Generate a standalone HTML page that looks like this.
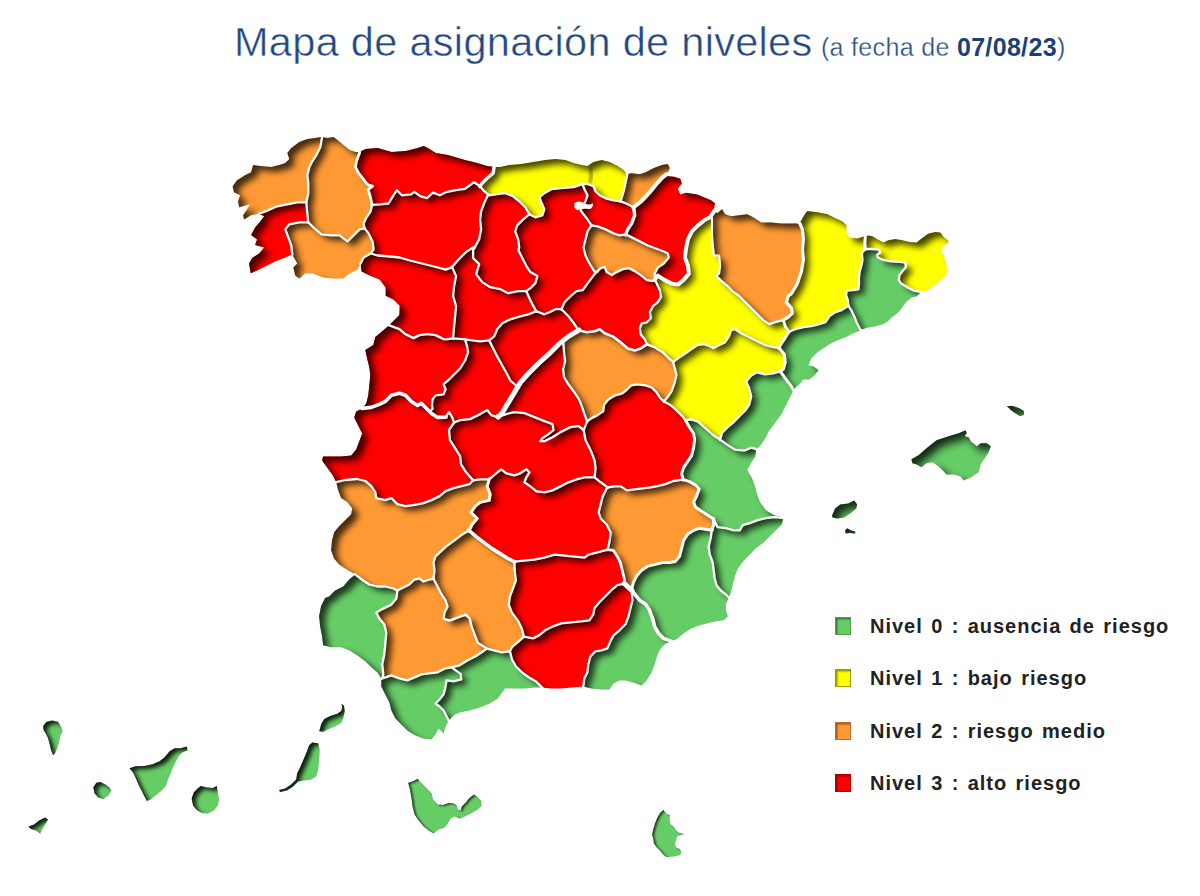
<!DOCTYPE html>
<html lang="es">
<head>
<meta charset="utf-8">
<title>Mapa de asignación de niveles</title>
<style>
html,body{margin:0;padding:0;background:#fff}
body{width:1200px;height:896px;position:relative;overflow:hidden;font-family:"Liberation Sans",sans-serif}
.title{position:absolute;left:234px;top:18.6px;margin:0;white-space:nowrap;font-weight:400;font-size:41.5px;line-height:46px;color:#23487f;letter-spacing:0.3px;-webkit-text-stroke:0.5px #fff}
.title .sub{font-size:25px;letter-spacing:0.33px;color:#2a4d85;margin-left:-3.5px;-webkit-text-stroke:0.3px #fff}
.title .sub b{font-weight:700;color:#1d3f78;-webkit-text-stroke:0}
.legend{position:absolute;left:835px;top:0;margin:0;padding:0;list-style:none;font-weight:700;font-size:20px;letter-spacing:1px;word-spacing:1.8px;color:#222}
.legend li{position:absolute;left:0;white-space:nowrap;height:22px;line-height:22px}
.legend i{position:absolute;left:0;top:2px;width:16px;height:18px;box-sizing:border-box;box-shadow:inset 1.5px 1.5px 1.5px rgba(0,0,0,.4)}
.legend span{position:absolute;left:35px;top:0}
</style>
</head>
<body>
<h1 class="title"><span class="main">Mapa de asignación de niveles</span> <span class="sub">(a fecha de <b>07/08/23</b>)</span></h1>
<svg width="1200" height="896" viewBox="0 0 1200 896" style="position:absolute;left:0;top:0">
<defs>
<filter id="is" x="-30%" y="-30%" width="160%" height="160%" color-interpolation-filters="sRGB">
<feComponentTransfer in="SourceAlpha" result="inv"><feFuncA type="table" tableValues="1 0"/></feComponentTransfer>
<feGaussianBlur in="inv" stdDeviation="3.0" result="bl"/>
<feOffset in="bl" dx="5.5" dy="4.5" result="off"/>
<feComposite in="off" in2="SourceAlpha" operator="in" result="inner"/>
<feColorMatrix in="inner" type="matrix" values="0 0 0 0 0  0 0 0 0 0  0 0 0 0 0  0 0 0 0.72 0" result="sh"/>
<feMerge><feMergeNode in="SourceGraphic"/><feMergeNode in="sh"/></feMerge>
</filter>
<filter id="is2" filterUnits="userSpaceOnUse" x="0" y="680" width="720" height="216" color-interpolation-filters="sRGB">
<feComponentTransfer in="SourceAlpha" result="inv"><feFuncA type="table" tableValues="1 0"/></feComponentTransfer>
<feGaussianBlur in="inv" stdDeviation="2.0" result="bl"/>
<feOffset in="bl" dx="3.5" dy="3.0" result="off"/>
<feComposite in="off" in2="SourceAlpha" operator="in" result="inner"/>
<feColorMatrix in="inner" type="matrix" values="0 0 0 0 0  0 0 0 0 0  0 0 0 0 0  0 0 0 0.85 0" result="sh"/>
<feMerge><feMergeNode in="SourceGraphic"/><feMergeNode in="sh"/></feMerge>
</filter>
<filter id="is3" filterUnits="userSpaceOnUse" x="800" y="380" width="260" height="200" color-interpolation-filters="sRGB">
<feComponentTransfer in="SourceAlpha" result="inv"><feFuncA type="table" tableValues="1 0"/></feComponentTransfer>
<feGaussianBlur in="inv" stdDeviation="4.5" result="bl"/>
<feOffset in="bl" dx="6" dy="6" result="off"/>
<feComposite in="off" in2="SourceAlpha" operator="in" result="inner"/>
<feColorMatrix in="inner" type="matrix" values="0 0 0 0 0  0 0 0 0 0  0 0 0 0 0  0 0 0 0.8 0" result="sh"/>
<feMerge><feMergeNode in="SourceGraphic"/><feMergeNode in="sh"/></feMerge>
</filter>
<filter id="is4" filterUnits="userSpaceOnUse" x="0" y="680" width="720" height="216" color-interpolation-filters="sRGB">
<feComponentTransfer in="SourceAlpha" result="inv"><feFuncA type="table" tableValues="1 0"/></feComponentTransfer>
<feGaussianBlur in="inv" stdDeviation="0.9" result="bl"/>
<feOffset in="bl" dx="1.6" dy="1.0" result="off"/>
<feComposite in="off" in2="SourceAlpha" operator="in" result="inner"/>
<feColorMatrix in="inner" type="matrix" values="0 0 0 0 0  0 0 0 0 0  0 0 0 0 0  0 0 0 0.7 0" result="sh"/>
<feMerge><feMergeNode in="SourceGraphic"/><feMergeNode in="sh"/></feMerge>
</filter>
</defs>
<g>
<path filter="url(#is)" fill="#ff0000" d="M259.1 213.7L264.2 216.3L260.1 221.8L255.1 227.4L251.1 235.0L257.1 239.4L255.1 245.1L264.2 247.5L259.1 253.5L252.1 257.9L249.1 263.5L250.7 273.2L257.1 270.6L265.2 266.5L275.2 261.5L285.3 257.5L292.3 254.5L291.3 245.5L288.3 237.4L285.3 229.4L289.3 224.4L299.3 222.4L308.3 222.4L307.3 213.3L306.3 202.3L297.3 202.3L287.3 204.3L277.2 206.3L268.2 210.3Z"/>
<path filter="url(#is)" fill="#ff9933" d="M322.1 137.1L321.4 137.0L315.4 138.0L307.3 139.0L299.3 142.0L291.3 148.1L287.3 153.1L289.3 159.1L285.3 163.1L279.2 165.1L271.2 167.1L260.1 166.1L253.1 165.1L251.1 172.2L245.1 175.2L237.1 180.2L232.6 186.2L234.0 192.2L240.1 195.3L238.1 201.3L239.1 207.3L250.1 204.3L247.1 209.3L243.1 215.3L244.1 219.4L251.1 215.3L259.1 213.7L268.2 210.3L277.2 206.3L287.3 204.3L297.3 202.3L306.3 202.3L308.3 193.2L308.3 183.2L307.3 175.2L309.4 167.1L312.4 161.1L316.4 155.1L320.4 147.1L322.0 137.4Z"/>
<path filter="url(#is)" fill="#ff9933" d="M359.6 152.1L355.5 152.1L349.5 150.1L343.5 145.0L337.5 140.0L333.5 137.0L327.4 138.0L322.1 137.1L322.0 137.4L320.4 147.1L316.4 155.1L312.4 161.1L309.4 167.1L307.3 175.2L308.3 183.2L308.3 193.2L306.3 202.3L307.3 213.3L308.3 222.4L313.4 227.4L321.4 234.4L331.4 235.4L339.5 235.4L347.5 241.4L353.5 235.4L359.6 229.4L364.6 228.4L363.6 223.4L366.6 217.3L370.6 211.3L372.0 204.9L370.0 195.3L368.0 189.6L372.6 186.2L368.6 185.2L365.6 182.2L362.6 178.2L358.6 173.2L355.5 167.1L356.5 161.1L359.6 152.7Z"/>
<path filter="url(#is)" fill="#ff0000" d="M494.1 167.1L487.1 166.1L477.1 163.1L465.0 160.1L447.9 155.1L435.9 153.1L427.8 148.1L423.8 146.0L417.8 148.1L405.8 151.1L391.7 152.1L377.6 148.1L365.6 149.1L359.6 152.1L359.6 152.7L356.5 161.1L355.5 167.1L358.6 173.2L362.6 178.2L365.6 182.2L368.6 185.2L372.6 186.2L368.0 189.6L370.0 195.3L372.0 204.9L380.2 204.3L388.5 203.5L393.5 195.3L396.9 190.2L401.9 195.3L411.0 194.4L414.4 191.8L420.2 196.1L427.0 198.1L432.9 192.6L439.9 195.3L445.9 192.2L456.0 190.2L465.0 188.8L470.0 185.2L474.0 182.2L480.1 186.2L482.1 183.2L487.1 178.2L493.1 173.2Z"/>
<path filter="url(#is)" fill="#ffff00" d="M627.3 174.0L626.7 174.2L623.7 170.1L617.6 166.1L609.6 162.1L601.6 160.1L593.5 162.1L587.5 166.1L581.5 165.1L573.5 163.1L565.4 160.1L555.4 159.1L545.3 160.1L533.3 162.1L521.2 164.1L509.2 165.1L500.1 167.1L494.1 167.1L493.1 173.2L487.1 178.2L482.1 183.2L480.1 186.2L484.1 191.2L488.3 194.6L489.1 195.3L497.1 194.2L505.2 193.2L513.2 196.3L519.2 201.3L525.3 207.3L529.3 214.3L535.3 217.3L542.3 215.3L544.3 209.3L541.3 202.3L539.3 197.3L544.3 193.2L551.4 189.2L561.4 188.2L573.5 187.2L582.5 184.2L587.5 184.2L593.5 186.2L595.5 191.2L599.6 195.3L605.6 198.3L613.6 200.3L620.6 201.3L623.7 191.2L625.7 182.2L627.3 174.2Z"/>
<path filter="url(#is)" fill="#ff9933" d="M666.4 174.4L667.8 172.8L669.9 168.1L667.8 164.1L661.8 165.1L653.8 168.1L645.8 172.2L639.7 174.2L631.7 173.2L627.3 174.0L627.3 174.2L625.7 182.2L623.7 191.2L620.6 201.3L627.7 204.3L633.7 207.3L641.7 200.9L649.8 192.2L657.4 182.8L662.8 177.2L666.4 174.4Z"/>
<path filter="url(#is)" fill="#ff0000" d="M714.8 210.7L714.0 209.7L715.0 203.3L711.0 200.3L705.0 197.7L697.0 194.6L690.9 193.6L685.9 192.8L680.3 194.4L677.9 188.8L681.9 183.6L680.3 178.8L673.9 176.8L665.0 176.0L666.4 174.4L666.4 174.4L662.8 177.2L657.4 182.8L649.8 192.2L641.7 200.9L633.7 207.3L634.7 215.3L631.7 223.4L627.7 229.4L625.7 234.4L631.7 237.4L639.7 241.4L647.8 245.5L655.8 248.5L663.8 251.5L667.8 253.5L668.8 257.5L663.8 263.5L657.8 267.6L654.8 273.6L654.8 279.6L657.8 275.6L663.8 279.6L671.9 283.6L677.9 284.6L683.9 279.6L688.9 273.6L687.9 265.5L684.9 257.5L685.9 249.5L687.9 239.4L691.9 231.4L698.0 225.4L705.0 219.8L710.0 217.3L710.2 217.1L714.0 211.3Z"/>
<path filter="url(#is)" fill="#ff9933" d="M799.5 223.2L799.4 223.4L791.4 223.4L781.3 223.4L771.3 222.4L761.2 222.4L753.2 217.3L747.2 214.3L739.1 215.3L731.1 216.3L725.1 214.3L722.1 209.3L717.1 213.3L714.8 210.7L714.0 211.3L710.2 217.1L712.0 218.3L712.0 235.4L713.0 247.5L714.0 255.5L719.1 255.5L720.1 265.5L719.1 273.6L716.0 275.6L721.1 280.6L727.1 285.6L733.1 291.7L739.1 296.0L745.2 302.1L751.2 308.1L757.2 314.1L763.2 320.1L769.3 324.1L775.3 322.1L782.9 320.1L783.3 320.1L788.3 317.1L792.4 313.1L791.4 308.1L786.3 302.1L788.3 296.0L791.4 293.7L797.4 283.6L801.4 271.6L803.4 259.5L802.4 249.5L803.4 239.4L802.4 229.4L799.8 223.4Z"/>
<path filter="url(#is)" fill="#ffff00" d="M865.3 235.9L863.7 236.4L857.6 238.4L849.6 237.4L846.6 233.4L846.6 225.4L842.6 221.4L835.5 218.3L827.5 214.3L817.5 212.3L807.4 210.9L805.4 213.3L799.5 223.2L799.8 223.4L802.4 229.4L803.4 239.4L802.4 249.5L803.4 259.5L801.4 271.6L797.4 283.6L791.4 293.7L788.3 296.0L786.3 302.1L791.4 308.1L792.4 313.1L788.3 317.1L783.3 320.1L785.3 326.2L788.9 331.8L795.4 329.2L803.4 327.2L811.4 326.2L819.5 324.1L825.5 322.1L829.5 316.1L835.5 312.1L841.6 310.1L848.4 305.8L847.8 300.0L846.1 295.3L846.7 290.6L853.1 290.0L858.4 289.4L859.0 283.6L859.0 277.7L859.6 271.9L861.3 266.0L862.5 260.1L861.9 253.1L865.4 248.8L864.8 242.6L865.4 236.1Z"/>
<path filter="url(#is)" fill="#ffff00" d="M921.1 292.0L925.8 291.2L930.4 288.3L935.1 284.7L939.8 281.2L944.5 276.5L947.4 271.9L946.8 266.0L945.1 260.1L943.3 254.3L941.0 249.6L944.5 245.5L948.6 242.6L948.0 240.2L943.3 236.7L940.4 232.6L935.1 232.0L928.1 233.8L922.2 237.9L916.4 242.6L909.4 242.0L902.3 240.2L895.3 239.1L888.3 240.2L883.6 242.6L877.7 239.6L871.9 236.1L866.7 235.4L865.3 235.9L865.4 236.1L864.8 242.6L865.4 248.8L871.9 249.0L878.9 249.6L880.1 252.5L877.1 254.9L877.7 257.2L882.4 259.6L890.6 261.3L900.0 261.9L905.3 262.5L905.8 267.2L902.3 271.3L899.4 275.4L898.8 280.1L901.2 283.6L907.0 287.1L914.0 290.6Z"/>
<path filter="url(#is)" fill="#66cc66" d="M861.3 330.0L866.0 328.1L871.9 326.9L877.7 325.8L883.6 324.0L888.3 321.1L891.8 317.6L896.5 314.0L900.0 310.5L903.5 305.8L907.0 301.2L911.7 297.6L916.4 296.5L921.1 292.0L914.0 290.6L907.0 287.1L901.2 283.6L898.8 280.1L899.4 275.4L902.3 271.3L905.8 267.2L905.3 262.5L900.0 261.9L890.6 261.3L882.4 259.6L877.7 257.2L877.1 254.9L880.1 252.5L878.9 249.6L871.9 249.0L865.4 248.8L861.9 253.1L862.5 260.1L861.3 266.0L859.6 271.9L859.0 277.7L859.0 283.6L858.4 289.4L853.1 290.0L846.7 290.6L846.1 295.3L847.8 300.0L848.4 305.8L851.4 310.5L854.3 316.4L856.6 322.2L860.1 329.3Z"/>
<path filter="url(#is)" fill="#66cc66" d="M793.6 390.1L796.4 386.4L799.4 384.4L803.4 379.4L809.4 379.4L814.5 375.4L818.5 370.3L813.5 366.3L808.4 365.3L811.4 358.3L817.5 352.3L823.5 348.2L829.5 344.2L837.6 340.2L845.6 337.2L853.6 333.2L861.3 330.0L860.1 329.3L856.6 322.2L854.3 316.4L851.4 310.5L848.4 305.8L841.6 310.1L835.5 312.1L829.5 316.1L825.5 322.1L819.5 324.1L811.4 326.2L803.4 327.2L795.4 329.2L788.9 331.8L784.3 339.2L780.3 345.2L779.3 348.2L784.3 354.3L785.3 362.3L783.3 369.3L780.3 371.3L785.3 378.4L791.4 386.4Z"/>
<path filter="url(#is)" fill="#66cc66" d="M793.5 390.2L793.6 390.1L791.4 386.4L785.3 378.4L780.3 371.3L773.3 373.3L765.3 374.4L757.2 372.3L751.2 375.4L746.2 381.4L749.2 388.4L751.2 396.4L749.2 404.5L745.2 410.5L739.1 416.5L733.1 422.6L727.1 427.6L722.1 432.6L720.1 439.6L727.1 444.6L735.1 449.7L744.2 450.7L751.2 447.7L756.2 449.1L756.5 449.4L761.2 444.6L765.3 438.6L769.3 430.6L775.3 422.6L781.3 414.5L785.3 406.5L789.4 398.5L793.4 390.4Z"/>
<path filter="url(#is)" fill="#66cc66" d="M782.3 517.8L782.0 517.2L774.0 515.2L765.9 510.2L759.9 502.1L756.9 494.1L754.9 486.1L751.9 478.0L747.2 469.9L751.2 462.7L755.2 456.7L756.2 449.7L756.5 449.4L756.2 449.1L751.2 447.7L744.2 450.7L735.1 449.7L727.1 444.6L720.1 439.6L713.7 435.5L705.7 428.5L697.6 421.4L690.6 419.4L685.6 420.4L689.6 427.5L693.6 433.5L694.6 439.5L693.6 447.6L691.6 455.6L687.6 461.6L683.6 467.6L681.6 473.7L683.2 479.6L689.6 481.6L695.6 485.1L699.2 489.1L696.6 496.1L693.6 502.1L695.6 507.2L701.7 511.2L707.7 515.2L713.3 518.8L717.7 527.2L725.8 528.2L733.8 530.3L739.8 530.3L742.8 525.2L749.9 523.2L757.9 520.2L765.9 518.2L774.0 517.2Z"/>
<path filter="url(#is)" fill="#66cc66" d="M782.3 517.8L782.3 517.8L774.0 517.2L765.9 518.2L757.9 520.2L749.9 523.2L742.8 525.2L739.8 530.3L733.8 530.3L725.8 528.2L717.7 527.2L713.3 518.8L713.7 525.2L711.7 530.3L710.7 538.3L708.7 546.3L709.7 554.4L712.7 562.4L713.7 570.4L714.7 578.5L716.7 585.5L720.7 590.5L725.8 594.5L728.8 597.5L730.8 592.5L732.8 584.5L734.8 576.4L737.8 568.4L743.8 560.4L749.9 554.4L755.9 548.3L763.9 542.3L769.9 536.3L776.0 530.3L782.0 524.2L783.0 519.2Z"/>
<path filter="url(#is)" fill="#66cc66" d="M671.7 641.4L677.7 638.4L683.7 633.3L691.8 628.3L699.8 625.3L707.8 623.3L715.9 621.3L723.9 620.3L727.9 616.3L725.9 610.3L725.9 604.2L728.8 597.5L725.8 594.5L720.7 590.5L716.7 585.5L714.7 578.5L713.7 570.4L712.7 562.4L709.7 554.4L708.7 546.3L710.7 538.3L711.7 530.3L705.7 529.2L699.6 528.2L693.6 530.3L687.6 534.3L683.6 540.3L681.6 548.3L679.6 556.4L675.5 561.4L669.5 562.4L663.5 562.4L655.5 564.4L647.4 566.4L641.4 570.4L636.4 576.4L633.4 582.5L631.5 590.2L639.6 600.2L645.6 604.2L649.6 610.3L652.6 618.3L654.6 626.3L658.6 633.3L663.7 638.4Z"/>
<path filter="url(#is)" fill="#66cc66" d="M583.3 686.6L591.4 688.6L601.4 689.6L609.4 689.6L613.5 683.6L619.5 680.5L625.5 680.5L633.5 682.6L641.6 685.6L646.6 680.5L651.6 672.5L654.6 664.5L657.6 654.4L660.6 648.4L665.7 643.4L671.7 641.4L663.7 638.4L658.6 633.3L654.6 626.3L652.6 618.3L649.6 610.3L645.6 604.2L639.6 600.2L631.5 590.2L632.5 600.2L630.5 608.2L628.5 616.3L625.5 624.3L619.5 630.3L613.5 635.4L610.4 641.4L607.4 648.4L601.4 650.4L595.4 651.4L590.4 656.4L588.3 664.5L587.3 672.5L584.3 678.5Z"/>
<path filter="url(#is)" fill="#ff0000" d="M542.2 687.6L551.2 688.6L561.2 688.6L571.3 687.6L583.3 686.6L584.3 678.5L587.3 672.5L588.3 664.5L590.4 656.4L595.4 651.4L601.4 650.4L607.4 648.4L610.4 641.4L613.5 635.4L619.5 630.3L625.5 624.3L628.5 616.3L630.5 608.2L632.5 600.2L631.5 590.2L624.5 583.7L617.5 585.1L611.4 590.2L605.4 596.2L599.4 602.2L594.4 608.2L593.4 614.3L589.4 620.3L581.3 621.3L571.3 622.3L561.2 623.3L553.2 626.3L545.2 630.3L539.1 635.4L533.1 638.4L523.9 636.7L517.9 642.2L511.9 647.2L509.9 651.3L512.0 659.5L516.0 666.5L522.1 672.5L529.1 677.5L536.1 681.5Z"/>
<path filter="url(#is)" fill="#66cc66" d="M448.6 720.5L453.6 715.5L459.6 712.5L469.7 710.5L479.7 707.5L489.8 703.5L497.8 698.5L505.0 688.6L515.0 688.6L525.1 688.6L535.1 687.6L542.2 687.6L536.1 681.5L529.1 677.5L522.1 672.5L516.0 666.5L512.0 659.5L509.9 651.3L501.8 652.3L493.8 650.3L486.8 648.6L481.7 652.3L475.7 656.3L467.7 660.3L459.6 665.3L451.6 667.3L460.6 673.9L461.3 679.4L453.6 681.4L446.6 680.4L445.2 688.4L443.6 694.4L439.6 699.5L435.5 703.5L439.6 706.5L443.6 710.5L446.6 716.5Z"/>
<path filter="url(#is)" fill="#66cc66" d="M381.3 678.8L381.3 686.4L385.3 694.4L389.4 702.5L391.4 710.5L395.4 718.5L401.4 724.6L407.4 730.6L415.5 735.6L423.5 738.6L431.5 739.6L435.5 734.6L438.6 728.6L443.6 733.6L445.6 726.6L448.6 720.5L446.6 716.5L443.6 710.5L439.6 706.5L435.5 703.5L439.6 699.5L443.6 694.4L445.2 688.4L446.6 680.4L453.6 681.4L461.3 679.4L460.6 673.9L451.6 667.3L445.6 668.3L437.6 672.3L429.5 673.3L421.5 674.4L414.5 677.4L407.4 680.4L399.4 678.4L391.4 675.4L382.3 678.4L381.3 678.6Z"/>
<path filter="url(#is)" fill="#66cc66" d="M355.2 574.4L349.2 579.5L343.2 586.5L335.1 590.5L329.1 596.5L325.1 598.0L321.1 606.1L319.1 616.1L320.1 626.2L322.1 636.2L323.1 645.2L331.1 647.2L341.2 647.2L349.2 650.3L357.2 655.3L365.3 661.3L371.3 667.3L377.3 672.3L381.3 678.4L381.3 678.6L382.3 678.4L383.3 674.4L382.3 664.3L384.3 654.3L385.3 644.2L386.3 632.7L384.3 624.6L379.3 618.6L376.3 612.6L383.3 608.6L391.4 604.6L396.4 598.5L397.4 590.5L393.4 588.5L385.3 586.5L377.3 586.5L369.3 584.5L363.2 580.5Z"/>
<path filter="url(#is)" fill="#ff9933" d="M336.1 482.1L338.1 490.1L341.2 498.1L347.2 502.1L352.2 508.2L351.2 514.2L345.2 520.2L339.1 526.2L334.1 532.3L332.1 540.3L331.1 550.3L334.1 558.4L339.1 564.4L345.2 568.4L355.2 574.4L363.2 580.5L369.3 584.5L377.3 586.5L385.3 586.5L393.4 588.5L397.4 590.5L403.4 587.5L409.4 584.5L414.5 579.5L419.5 578.5L423.5 581.5L429.5 579.5L433.5 578.9L434.5 570.4L433.5 562.4L435.5 556.4L446.0 546.6L454.1 540.6L462.1 534.6L469.1 530.5L472.1 524.5L477.2 518.5L471.1 512.5L475.1 506.4L480.2 502.4L489.2 500.4L490.2 494.4L487.2 486.4L489.2 479.3L480.2 479.3L473.1 480.3L469.7 484.1L461.7 486.1L453.6 488.1L445.6 491.1L439.6 496.1L431.5 500.1L423.5 503.1L413.5 505.1L405.4 506.2L397.4 504.1L391.4 498.1L385.3 500.1L376.3 498.1L375.3 492.1L371.3 486.1L365.3 481.0L357.2 479.0L345.2 480.0Z"/>
<path filter="url(#is)" fill="#ff0000" d="M362.2 408.4L356.2 411.4L354.2 417.4L358.2 425.5L362.2 433.5L359.2 441.5L356.2 449.6L351.2 455.6L341.2 456.6L331.1 456.6L323.1 456.6L322.1 460.6L327.1 467.6L333.1 475.7L336.1 482.1L345.2 480.0L357.2 479.0L365.3 481.0L371.3 486.1L375.3 492.1L376.3 498.1L385.3 500.1L391.4 498.1L397.4 504.1L405.4 506.2L413.5 505.1L423.5 503.1L431.5 500.1L439.6 496.1L445.6 491.1L453.6 488.1L461.7 486.1L469.7 484.1L473.1 480.3L466.1 472.3L461.1 464.3L460.1 456.2L455.1 448.2L450.0 440.2L449.0 430.1L454.1 422.5L452.1 417.1L449.0 412.1L445.6 417.1L437.6 417.4L431.5 413.4L429.7 411.6L425.5 407.4L421.5 403.4L417.5 405.4L411.4 401.4L405.4 395.3L399.4 393.3L391.4 395.3L385.3 401.4L379.3 404.4L371.3 407.4Z"/>
<path filter="url(#is)" fill="#ff0000" d="M389.2 325.2L381.3 332.1L375.3 337.1L373.3 345.1L365.3 350.1L367.3 359.2L369.3 367.2L370.3 375.3L369.3 385.3L368.3 395.3L366.3 403.4L362.2 408.4L371.3 407.4L379.3 404.4L385.3 401.4L391.4 395.3L399.4 393.3L405.4 395.3L411.4 401.4L417.5 405.4L421.5 403.4L425.5 407.4L429.7 411.6L432.6 408.7L432.0 405.4L432.6 399.4L435.6 395.4L443.6 394.4L445.6 389.4L443.6 384.2L448.0 380.5L454.1 374.5L460.1 368.5L465.1 360.5L468.1 352.4L467.1 346.4L465.1 339.4L453.1 338.4L446.0 339.4L443.6 339.1L435.5 335.1L427.5 334.1L419.5 335.1L413.5 338.1L405.4 334.1L399.4 329.1L389.4 325.4Z"/>
<path filter="url(#is)" fill="#ff0000" d="M360.6 263.5L361.6 271.6L369.6 275.6L379.6 279.6L385.7 287.6L385.7 295.7L393.7 299.7L399.7 305.7L399.4 315.0L389.4 325.0L389.2 325.2L389.4 325.4L399.4 329.1L405.4 334.1L413.5 338.1L419.5 335.1L427.5 334.1L435.5 335.1L443.6 339.1L446.0 339.4L453.1 338.4L454.1 326.3L455.1 316.3L456.1 306.2L453.1 296.2L454.1 286.2L456.1 276.1L452.1 267.1L445.9 269.6L433.9 266.5L421.8 263.5L409.8 260.5L399.7 257.5L389.7 256.5L377.6 255.5L370.6 253.5L363.6 257.5Z"/>
<path filter="url(#is)" fill="#ff9933" d="M292.3 254.5L297.3 263.5L293.3 267.6L295.3 275.6L299.3 278.6L305.3 273.6L313.4 273.6L323.4 277.6L333.5 278.6L343.5 278.6L349.5 273.6L357.6 269.6L360.6 263.5L363.6 257.5L370.6 253.5L373.6 249.5L372.6 241.4L368.6 233.4L364.6 228.4L359.6 229.4L353.5 235.4L347.5 241.4L339.5 235.4L331.4 235.4L321.4 234.4L313.4 227.4L308.3 222.4L299.3 222.4L289.3 224.4L285.3 229.4L288.3 237.4L291.3 245.5Z"/>
<path filter="url(#is)" fill="#ff0000" d="M372.0 204.9L370.6 211.3L366.6 217.3L363.6 223.4L364.6 228.4L368.6 233.4L372.6 241.4L373.6 249.5L370.6 253.5L377.6 255.5L389.7 256.5L399.7 257.5L409.8 260.5L421.8 263.5L433.9 266.5L445.9 269.6L452.1 267.1L458.1 260.0L466.1 252.0L474.0 246.9L474.8 247.3L475.0 246.9L479.1 239.4L481.1 229.4L480.1 219.4L481.1 211.3L484.1 203.3L488.1 194.8L488.3 194.6L484.1 191.2L480.1 186.2L474.0 182.2L470.0 185.2L465.0 188.8L456.0 190.2L445.9 192.2L439.9 195.3L432.9 192.6L427.0 198.1L420.2 196.1L414.4 191.8L411.0 194.4L401.9 195.3L396.9 190.2L393.5 195.3L388.5 203.5L380.2 204.3Z"/>
<path filter="url(#is)" fill="#ff0000" d="M474.8 247.3L474.0 246.9L466.1 252.0L458.1 260.0L452.1 267.1L456.1 276.1L454.1 286.2L453.1 296.2L456.1 306.2L455.1 316.3L454.1 326.3L453.1 338.4L465.1 339.4L472.1 340.4L480.2 341.4L489.2 340.4L494.2 336.4L497.2 329.3L502.3 323.3L510.3 319.3L520.3 316.3L528.4 314.3L536.4 311.3L533.4 306.2L529.4 298.2L526.4 291.2L518.3 291.2L508.3 293.2L500.3 289.2L490.2 287.2L482.2 282.1L476.2 274.1L479.2 264.1L473.1 258.0L473.1 250.0Z"/>
<path filter="url(#is)" fill="#ff0000" d="M529.3 214.3L525.3 207.3L519.2 201.3L513.2 196.3L505.2 193.2L497.1 194.2L489.1 195.3L488.3 194.6L488.1 194.8L484.1 203.3L481.1 211.3L480.1 219.4L481.1 229.4L479.1 239.4L475.0 246.9L474.8 247.3L473.1 250.0L473.1 258.0L479.2 264.1L476.2 274.1L482.2 282.1L490.2 287.2L500.3 289.2L508.3 293.2L518.3 291.2L526.4 291.2L530.4 288.2L535.4 283.1L537.4 276.1L530.4 272.1L526.4 266.1L522.3 258.0L518.3 250.0L519.2 247.5L518.2 239.4L515.2 231.4L517.2 225.4L523.2 219.4Z"/>
<path filter="url(#is)" fill="#ff0000" d="M582.5 184.2L573.5 187.2L561.4 188.2L551.4 189.2L544.3 193.2L539.3 197.3L541.3 202.3L544.3 209.3L542.3 215.3L535.3 217.3L529.3 214.3L523.2 219.4L517.2 225.4L515.2 231.4L518.2 239.4L519.2 247.5L518.3 250.0L522.3 258.0L526.4 266.1L530.4 272.1L537.4 276.1L535.4 283.1L530.4 288.2L526.4 291.2L529.4 298.2L533.4 306.2L536.4 311.3L544.4 314.3L549.5 312.3L555.5 309.2L561.5 309.2L564.5 302.2L570.5 296.2L576.6 291.2L582.6 290.2L588.6 282.1L594.6 274.1L597.1 271.7L594.5 271.6L589.5 263.5L585.5 255.5L583.5 247.5L585.5 239.4L587.5 231.4L591.5 225.4L587.5 219.4L583.5 214.3L580.5 210.3L585.5 201.3L587.5 195.3L584.5 189.2Z"/>
<path filter="url(#is)" fill="#ff0000" d="M620.6 201.3L613.6 200.3L605.6 198.3L599.6 195.3L595.5 191.2L593.5 186.2L587.5 184.2L582.5 184.2L584.5 189.2L587.5 195.3L585.5 201.3L580.5 210.3L583.5 214.3L587.5 219.4L591.5 225.4L597.6 226.4L605.6 229.4L613.6 233.4L619.6 235.4L625.7 234.4L627.7 229.4L631.7 223.4L634.7 215.3L633.7 207.3L627.7 204.3Z"/>
<path filter="url(#is)" fill="#ff9933" d="M625.7 234.4L619.6 235.4L613.6 233.4L605.6 229.4L597.6 226.4L591.5 225.4L587.5 231.4L585.5 239.4L583.5 247.5L585.5 255.5L589.5 263.5L594.5 271.6L597.1 271.7L600.7 268.1L604.7 267.1L606.7 272.1L611.7 275.1L616.7 272.1L622.8 269.1L628.8 268.1L634.8 271.1L640.8 275.1L646.9 280.1L652.9 281.1L654.8 279.6L654.8 273.6L657.8 267.6L663.8 263.5L668.8 257.5L667.8 253.5L663.8 251.5L655.8 248.5L647.8 245.5L639.7 241.4L631.7 237.4Z"/>
<path filter="url(#is)" fill="#ff0000" d="M561.5 309.2L555.5 309.2L549.5 312.3L544.4 314.3L536.4 311.3L528.4 314.3L520.3 316.3L510.3 319.3L502.3 323.3L497.2 329.3L494.2 336.4L489.2 340.4L493.2 348.4L497.2 356.4L502.3 365.5L507.3 374.5L510.3 380.5L517.3 386.6L517.8 386.8L520.3 382.6L528.4 373.5L538.4 363.5L548.5 354.4L558.5 344.4L563.1 340.7L563.1 340.1L563.4 340.5L568.5 336.4L578.6 330.3L574.6 324.3L568.5 316.3Z"/>
<path filter="url(#is)" fill="#ff0000" d="M597.1 271.7L594.6 274.1L588.6 282.1L582.6 290.2L576.6 291.2L570.5 296.2L564.5 302.2L561.5 309.2L568.5 316.3L574.6 324.3L578.6 330.3L586.6 332.3L594.6 331.3L599.7 329.3L604.7 333.3L612.7 336.4L620.8 342.4L627.8 348.4L634.8 350.4L640.8 348.4L646.9 344.4L644.9 339.4L640.8 334.4L639.8 328.3L641.8 323.3L646.9 322.3L650.9 318.3L649.9 312.3L652.9 306.2L657.9 302.2L660.9 297.2L659.9 290.2L654.8 279.6L652.9 281.1L646.9 280.1L640.8 275.1L634.8 271.1L628.8 268.1L622.8 269.1L616.7 272.1L611.7 275.1L606.7 272.1L604.7 267.1L600.7 268.1Z"/>
<path filter="url(#is)" fill="#ffff00" d="M710.2 217.1L710.0 217.3L705.0 219.8L698.0 225.4L691.9 231.4L687.9 239.4L685.9 249.5L684.9 257.5L687.9 265.5L688.9 273.6L683.9 279.6L677.9 284.6L671.9 283.6L663.8 279.6L657.8 275.6L654.8 279.6L659.9 290.2L660.9 297.2L657.9 302.2L652.9 306.2L649.9 312.3L650.9 318.3L646.9 322.3L641.8 323.3L639.8 328.3L640.8 334.4L644.9 339.4L646.9 344.4L654.9 347.4L662.9 352.4L669.0 358.5L673.4 361.9L673.4 362.0L679.6 357.2L685.6 353.2L691.6 349.1L697.6 345.1L703.7 344.1L709.7 346.1L713.7 348.1L717.1 346.2L725.1 342.2L729.1 336.2L731.1 330.2L735.1 329.2L741.2 333.2L749.2 337.2L757.2 341.2L765.3 345.2L773.3 347.2L779.3 348.2L780.3 345.2L784.3 339.2L788.9 331.8L785.3 326.2L783.3 320.1L782.9 320.1L775.3 322.1L769.3 324.1L763.2 320.1L757.2 314.1L751.2 308.1L745.2 302.1L739.1 296.0L733.1 291.7L727.1 285.6L721.1 280.6L716.0 275.6L719.1 273.6L720.1 265.5L719.1 255.5L714.0 255.5L713.0 247.5L712.0 235.4L712.0 218.3Z"/>
<path filter="url(#is)" fill="#ff9933" d="M646.9 344.4L640.8 348.4L634.8 350.4L627.8 348.4L620.8 342.4L612.7 336.4L604.7 333.3L599.7 329.3L594.6 331.3L586.6 332.3L578.6 330.3L568.5 336.4L563.4 340.5L563.1 340.7L563.5 345.1L564.1 353.2L565.1 361.2L563.1 369.2L564.1 377.3L569.1 385.3L575.1 393.3L579.1 399.4L582.2 407.4L584.2 413.4L587.2 421.4L591.2 418.4L597.2 415.4L603.2 411.4L604.2 404.4L608.3 399.4L615.3 395.3L622.3 393.3L627.3 389.3L631.4 385.3L637.4 384.3L645.4 385.3L651.4 387.3L656.5 392.3L660.5 398.3L663.9 401.4L667.5 397.3L671.5 391.3L674.5 383.3L676.5 375.3L674.5 367.2L673.1 362.2L673.4 362.0L673.4 361.9L669.0 358.5L662.9 352.4L654.9 347.4Z"/>
<path filter="url(#is)" fill="#ff0000" d="M489.2 340.4L480.2 341.4L472.1 340.4L465.1 339.4L467.1 346.4L468.1 352.4L465.1 360.5L460.1 368.5L454.1 374.5L448.0 380.5L443.6 384.2L445.6 389.4L443.6 394.4L435.6 395.4L432.6 399.4L432.0 405.4L432.6 408.7L429.7 411.6L431.5 413.4L437.6 417.4L445.6 417.1L449.0 412.1L452.1 417.1L454.1 422.5L460.1 420.1L470.1 419.1L480.2 414.1L487.2 410.0L491.2 415.1L497.2 417.1L498.1 416.8L498.7 416.6L502.3 412.7L508.3 402.6L514.3 392.6L517.8 386.8L517.3 386.6L510.3 380.5L507.3 374.5L502.3 365.5L497.2 356.4L493.2 348.4Z"/>
<path filter="url(#is)" fill="#ff0000" d="M563.1 340.7L558.5 344.4L548.5 354.4L538.4 363.5L528.4 373.5L520.3 382.6L517.8 386.8L514.3 392.6L508.3 402.6L502.3 412.7L498.7 416.6L506.3 414.1L514.3 412.1L524.4 413.1L534.4 417.1L544.4 421.1L552.5 424.1L553.5 430.1L548.5 434.1L542.4 438.2L540.4 441.2L544.4 441.2L552.5 437.2L560.5 432.1L570.5 427.1L578.6 426.1L583.6 430.1L587.2 421.4L584.2 413.4L582.2 407.4L579.1 399.4L575.1 393.3L569.1 385.3L564.1 377.3L563.1 369.2L565.1 361.2L564.1 353.2L563.5 345.1Z"/>
<path filter="url(#is)" fill="#ff0000" d="M498.7 416.6L498.2 417.1L498.1 416.8L497.2 417.1L491.2 415.1L487.2 410.0L480.2 414.1L470.1 419.1L460.1 420.1L454.1 422.5L449.0 430.1L450.0 440.2L455.1 448.2L460.1 456.2L461.1 464.3L466.1 472.3L473.1 480.3L480.2 479.3L489.2 479.3L496.2 473.3L501.3 469.3L506.3 473.3L514.3 475.3L520.3 473.3L526.4 469.3L529.4 472.3L526.4 477.3L524.4 482.3L530.4 486.4L536.4 491.4L544.4 492.4L552.5 490.4L560.5 486.4L568.5 482.3L576.6 479.3L584.6 477.3L594.6 477.3L595.6 468.3L594.6 460.3L590.6 450.2L585.6 440.2L583.6 430.1L578.6 426.1L570.5 427.1L560.5 432.1L552.5 437.2L544.4 441.2L540.4 441.2L542.4 438.2L548.5 434.1L553.5 430.1L552.5 424.1L544.4 421.1L534.4 417.1L524.4 413.1L514.3 412.1L506.3 414.1Z"/>
<path filter="url(#is)" fill="#ffff00" d="M780.3 371.3L783.3 369.3L785.3 362.3L784.3 354.3L779.3 348.2L773.3 347.2L765.3 345.2L757.2 341.2L749.2 337.2L741.2 333.2L735.1 329.2L731.1 330.2L729.1 336.2L725.1 342.2L717.1 346.2L713.7 348.1L709.7 346.1L703.7 344.1L697.6 345.1L691.6 349.1L685.6 353.2L679.6 357.2L673.4 362.0L673.1 362.2L674.5 367.2L676.5 375.3L674.5 383.3L671.5 391.3L667.5 397.3L663.9 401.4L669.5 404.4L675.5 409.4L681.6 415.4L685.6 420.4L690.6 419.4L697.6 421.4L705.7 428.5L713.7 435.5L720.1 439.6L722.1 432.6L727.1 427.6L733.1 422.6L739.1 416.5L745.2 410.5L749.2 404.5L751.2 396.4L749.2 388.4L746.2 381.4L751.2 375.4L757.2 372.3L765.3 374.4L773.3 373.3Z"/>
<path filter="url(#is)" fill="#ff0000" d="M685.6 420.4L681.6 415.4L675.5 409.4L669.5 404.4L663.9 401.4L660.5 398.3L656.5 392.3L651.4 387.3L645.4 385.3L637.4 384.3L631.4 385.3L627.3 389.3L622.3 393.3L615.3 395.3L608.3 399.4L604.2 404.4L603.2 411.4L597.2 415.4L591.2 418.4L587.2 421.4L583.6 430.1L585.6 440.2L590.6 450.2L594.6 460.3L595.6 468.3L594.6 477.3L600.7 482.3L607.7 487.4L614.7 486.4L620.8 486.4L626.8 490.4L634.8 489.4L642.8 488.4L650.9 487.4L657.5 486.1L665.5 484.1L673.5 481.0L683.2 479.6L681.6 473.7L683.6 467.6L687.6 461.6L691.6 455.6L693.6 447.6L694.6 439.5L693.6 433.5L689.6 427.5Z"/>
<path filter="url(#is)" fill="#ff0000" d="M594.6 477.3L584.6 477.3L576.6 479.3L568.5 482.3L560.5 486.4L552.5 490.4L544.4 492.4L536.4 491.4L530.4 486.4L524.4 482.3L526.4 477.3L529.4 472.3L526.4 469.3L520.3 473.3L514.3 475.3L506.3 473.3L501.3 469.3L496.2 473.3L489.2 479.3L487.2 486.4L490.2 494.4L489.2 500.4L480.2 502.4L475.1 506.4L471.1 512.5L477.2 518.5L472.1 524.5L469.1 530.5L476.2 536.6L484.2 542.6L492.2 548.6L500.3 553.6L508.3 558.7L514.3 561.7L524.4 560.7L534.4 559.7L544.4 557.7L554.5 554.6L564.5 555.6L574.6 556.7L584.6 557.7L588.6 554.6L596.7 552.6L607.7 549.6L609.7 540.6L610.7 532.6L606.7 524.5L600.7 518.5L598.7 512.5L600.7 504.4L602.7 496.4L606.7 488.4L607.7 487.4L600.7 482.3Z"/>
<path filter="url(#is)" fill="#ff9933" d="M683.2 479.6L673.5 481.0L665.5 484.1L657.5 486.1L650.9 487.4L642.8 488.4L634.8 489.4L626.8 490.4L620.8 486.4L614.7 486.4L607.7 487.4L606.7 488.4L602.7 496.4L600.7 504.4L598.7 512.5L600.7 518.5L606.7 524.5L610.7 532.6L609.7 540.6L607.7 549.6L613.3 550.3L617.3 556.4L620.3 562.4L622.3 570.4L624.3 578.5L624.5 583.7L631.5 590.2L633.4 582.5L636.4 576.4L641.4 570.4L647.4 566.4L655.5 564.4L663.5 562.4L669.5 562.4L675.5 561.4L679.6 556.4L681.6 548.3L683.6 540.3L687.6 534.3L693.6 530.3L699.6 528.2L705.7 529.2L711.7 530.3L713.7 525.2L713.3 518.8L707.7 515.2L701.7 511.2L695.6 507.2L693.6 502.1L696.6 496.1L699.2 489.1L695.6 485.1L689.6 481.6Z"/>
<path filter="url(#is)" fill="#ff9933" d="M469.1 530.5L462.1 534.6L454.1 540.6L446.0 546.6L435.5 556.4L433.5 562.4L434.5 570.4L433.5 578.9L437.6 586.5L441.6 594.5L445.6 600.5L447.6 606.6L444.6 612.6L443.6 618.6L449.6 620.6L457.6 617.6L465.7 614.6L469.7 618.6L471.7 626.7L474.7 634.7L477.7 642.7L481.7 645.2L486.8 648.6L493.8 650.3L501.8 652.3L509.9 651.3L511.9 647.2L517.9 642.2L523.9 636.7L521.9 628.7L517.9 620.6L511.9 612.6L508.8 604.6L509.9 596.5L512.9 588.5L515.9 580.5L514.9 572.4L514.3 561.7L508.3 558.7L500.3 553.6L492.2 548.6L484.2 542.6L476.2 536.6Z"/>
<path filter="url(#is)" fill="#ff0000" d="M607.7 549.6L596.7 552.6L588.6 554.6L584.6 557.7L574.6 556.7L564.5 555.6L554.5 554.6L544.4 557.7L534.4 559.7L524.4 560.7L514.3 561.7L514.9 572.4L515.9 580.5L512.9 588.5L509.9 596.5L508.8 604.6L511.9 612.6L517.9 620.6L521.9 628.7L523.9 636.7L533.1 638.4L539.1 635.4L545.2 630.3L553.2 626.3L561.2 623.3L571.3 622.3L581.3 621.3L589.4 620.3L593.4 614.3L594.4 608.2L599.4 602.2L605.4 596.2L611.4 590.2L617.5 585.1L624.5 583.7L624.3 578.5L622.3 570.4L620.3 562.4L617.3 556.4L613.3 550.3Z"/>
<path filter="url(#is)" fill="#ff9933" d="M433.5 578.9L429.5 579.5L423.5 581.5L419.5 578.5L414.5 579.5L409.4 584.5L403.4 587.5L397.4 590.5L396.4 598.5L391.4 604.6L383.3 608.6L376.3 612.6L379.3 618.6L384.3 624.6L386.3 632.7L385.3 644.2L384.3 654.3L382.3 664.3L383.3 674.4L382.3 678.4L391.4 675.4L399.4 678.4L407.4 680.4L414.5 677.4L421.5 674.4L429.5 673.3L437.6 672.3L445.6 668.3L451.6 667.3L459.6 665.3L467.7 660.3L475.7 656.3L481.7 652.3L486.8 648.6L481.7 645.2L477.7 642.7L474.7 634.7L471.7 626.7L469.7 618.6L465.7 614.6L457.6 617.6L449.6 620.6L443.6 618.6L444.6 612.6L447.6 606.6L445.6 600.5L441.6 594.5L437.6 586.5Z"/>
<path filter="url(#is3)" fill="#66cc66" d="M911.4 459.3L918.5 455.3L926.5 448.2L936.5 440.2L948.6 436.2L958.6 433.2L965.6 430.2L966.7 433.2L964.6 436.2L968.7 437.2L970.7 441.2L976.7 446.2L980.7 443.2L986.7 443.2L990.8 446.2L988.7 452.3L984.7 458.3L980.7 464.3L978.7 472.3L970.7 477.4L963.6 480.4L960.6 476.4L954.6 474.4L946.6 474.4L942.6 470.3L938.5 466.3L932.5 462.3L926.5 463.3L921.5 467.3L916.4 464.3L912.4 463.3Z"/>
<path filter="url(#is3)" fill="#66cc66" d="M1006.8 406.1L1012.8 406.1L1018.9 408.1L1023.9 411.1L1023.9 415.1L1019.9 416.1L1014.9 413.1L1010.8 410.1Z"/>
<path filter="url(#is3)" fill="#66cc66" d="M832.1 515.5L835.1 508.5L840.1 504.5L848.2 503.5L854.2 500.5L857.2 504.5L856.2 508.5L850.2 513.5L844.1 517.5L837.1 518.5L832.5 517.5Z"/>
<path filter="url(#is3)" fill="#66cc66" d="M845.1 530.6L847.2 528.2L851.2 530.6L855.2 531.6L855.2 533.6L849.2 533.0L845.7 533.6Z"/>
<path filter="url(#is2)" fill="#66cc66" d="M43.1 726.2L46.1 722.1L52.1 720.5L58.2 722.1L61.2 727.2L62.6 731.2L60.2 736.2L59.2 742.2L57.2 748.2L55.1 753.3L53.1 755.3L51.1 750.3L49.7 744.2L48.1 738.2L45.7 733.2L43.7 730.2Z"/>
<path filter="url(#is2)" fill="#66cc66" d="M93.3 787.4L96.3 782.8L100.3 782.0L105.4 784.4L109.4 787.4L111.4 790.4L108.4 795.4L103.3 798.9L98.3 797.4L94.7 793.4Z"/>
<path filter="url(#is2)" fill="#66cc66" d="M129.5 768.3L135.5 766.3L144.5 765.9L152.6 764.3L159.6 761.3L164.6 757.3L169.6 751.3L174.6 748.2L180.7 748.2L186.7 746.6L187.7 750.3L182.7 752.3L178.7 756.3L175.6 762.3L172.6 768.3L170.2 774.4L167.6 780.4L165.6 786.4L160.6 791.4L155.6 795.4L150.5 799.5L146.9 800.9L144.5 796.4L141.5 790.4L138.5 784.4L135.5 777.4L132.9 772.3Z"/>
<path filter="url(#is2)" fill="#66cc66" d="M191.7 798.5L193.7 792.4L197.7 788.4L200.8 786.0L206.8 787.4L212.8 788.0L216.8 786.0L217.8 792.4L219.2 799.5L217.8 805.5L213.8 810.5L207.8 813.5L201.8 812.9L196.7 810.1L193.1 805.5Z"/>
<path filter="url(#is2)" fill="#66cc66" d="M28.4 826.6L34.1 824.6L39.1 820.5L45.1 817.5L48.1 819.5L45.1 824.6L42.1 829.6L40.1 833.6L36.1 830.6L31.0 829.0Z"/>
<path filter="url(#is2)" fill="#66cc66" d="M319.2 731.2L321.3 724.1L324.3 719.1L330.3 716.1L337.3 713.7L341.3 711.1L342.3 707.1L341.3 703.7L343.9 705.7L344.8 711.1L343.3 718.1L341.3 723.1L335.3 726.2L328.3 729.2L323.3 731.8Z"/>
<path filter="url(#is2)" fill="#66cc66" d="M309.2 745.2L312.2 742.6L318.2 743.2L319.8 750.3L319.2 760.3L318.2 769.3L316.2 776.4L311.2 779.4L304.2 780.4L298.2 781.4L293.1 786.4L287.1 790.4L280.1 792.0L279.1 790.0L285.1 788.4L291.1 784.4L296.2 779.4L297.2 773.3L300.2 767.3L303.2 760.3L306.2 753.3Z"/>
<path filter="url(#is4)" fill="#66cc66" d="M408.2 782.8L412.6 781.4L417.7 778.8L420.7 782.4L426.7 788.4L431.7 793.4L433.1 799.5L437.7 804.5L442.8 804.9L448.8 802.9L453.8 803.5L456.8 805.5L457.8 809.5L460.8 810.5L461.8 806.5L465.9 802.5L468.9 798.5L473.9 794.4L476.9 796.4L480.9 800.5L481.9 805.5L477.9 809.5L470.9 813.5L464.9 816.5L459.8 818.5L454.8 816.5L450.8 818.5L447.8 823.6L444.8 827.6L438.7 829.6L433.7 833.6L428.7 830.6L423.7 826.6L418.7 820.5L414.6 814.5L412.6 806.5L411.6 798.5L410.2 790.4Z"/>
<path filter="url(#is4)" fill="#66cc66" d="M663.3 809.9L666.8 814.0L669.7 815.1L669.7 819.8L670.3 823.9L673.8 826.9L676.2 830.4L679.7 833.3L684.4 833.9L680.8 835.1L677.3 836.2L676.2 839.7L675.0 843.8L676.2 847.4L679.7 849.1L681.4 851.5L680.3 855.0L675.0 856.2L670.3 856.7L666.8 857.3L663.8 855.0L659.7 850.3L656.2 846.8L653.9 843.3L653.3 838.6L652.1 835.1L653.3 829.2L655.1 823.3L657.4 817.5L660.3 812.8Z"/>
</g>
<g fill="none" stroke="#fff" stroke-width="2.3" stroke-linejoin="round" stroke-linecap="round">
<path d="M258.7 213.9L259.1 213.7L268.2 210.3L277.2 206.3L287.3 204.3L297.3 202.3L306.3 202.3L306.8 202.3 M322.1 136.7L322.0 137.4L320.4 147.1L316.4 155.1L312.4 161.1L309.4 167.1L307.3 175.2L308.3 183.2L308.3 193.2L306.3 202.3L306.2 202.8 M306.3 201.8L306.3 202.3L307.3 213.3L308.3 222.4L308.4 222.9 M308.0 222.0L308.3 222.4L313.4 227.4L321.4 234.4L331.4 235.4L339.5 235.4L347.5 241.4L353.5 235.4L359.6 229.4L364.6 228.4L365.1 228.3 M308.8 222.4L308.3 222.4L299.3 222.4L289.3 224.4L285.3 229.4L288.3 237.4L291.3 245.5L292.3 254.5L292.3 255.0 M372.1 204.4L372.0 204.9L370.6 211.3L366.6 217.3L363.6 223.4L364.6 228.4L364.7 228.9 M371.5 204.9L372.0 204.9L380.2 204.3L388.5 203.5L393.5 195.3L396.9 190.2L401.9 195.3L411.0 194.4L414.4 191.8L420.2 196.1L427.0 198.1L432.9 192.6L439.9 195.3L445.9 192.2L456.0 190.2L465.0 188.8L470.0 185.2L474.0 182.2L480.1 186.2L480.5 186.5 M364.3 228.0L364.6 228.4L368.6 233.4L372.6 241.4L373.6 249.5L370.6 253.5L363.6 257.5L360.6 263.5L360.3 264.0 M370.1 253.4L370.6 253.5L377.6 255.5L389.7 256.5L399.7 257.5L409.8 260.5L421.8 263.5L433.9 266.5L445.9 269.6L452.1 267.1L452.5 266.9 M451.7 267.5L452.1 267.1L458.1 260.0L466.1 252.0L474.0 246.9L475.1 247.5 M451.8 266.6L452.1 267.1L456.1 276.1L454.1 286.2L453.1 296.2L456.1 306.2L455.1 316.3L454.1 326.3L453.1 338.4L453.0 338.9 M388.9 324.9L389.4 325.4L399.4 329.1L405.4 334.1L413.5 338.1L419.5 335.1L427.5 334.1L435.5 335.1L443.6 339.1L446.0 339.4L453.1 338.4L453.5 338.3 M452.6 338.3L453.1 338.4L465.1 339.4L465.6 339.4 M479.8 185.8L480.1 186.2L484.1 191.2L489.1 195.3L497.1 194.2L505.2 193.2L513.2 196.3L519.2 201.3L525.3 207.3L529.3 214.3L535.3 217.3L542.3 215.3L544.3 209.3L541.3 202.3L539.3 197.3L544.3 193.2L551.4 189.2L561.4 188.2L573.5 187.2L582.5 184.2L583.0 184.0 M582.0 184.2L582.5 184.2L587.5 184.2L593.5 186.2L595.5 191.2L599.6 195.3L605.6 198.3L613.6 200.3L620.6 201.3L621.1 201.3 M620.5 201.8L620.6 201.3L623.7 191.2L625.7 182.2L627.3 174.2L627.2 173.7 M620.2 201.1L620.6 201.3L627.7 204.3L633.7 207.3L634.2 207.5 M626.2 234.3L625.7 234.4L619.6 235.4L613.6 233.4L605.6 229.4L597.6 226.4L591.5 225.4L591.0 225.3 M591.8 225.8L591.5 225.4L587.5 219.4L583.5 214.3L580.5 210.3L585.5 201.3L587.5 195.3L584.5 189.2L582.5 184.2L582.3 183.7 M488.5 194.3L488.1 194.8L484.1 203.3L481.1 211.3L480.1 219.4L481.1 229.4L479.1 239.4L475.0 246.9L474.8 247.3 M475.3 246.4L475.0 246.9L473.1 250.0L473.1 258.0L479.2 264.1L476.2 274.1L482.2 282.1L490.2 287.2L500.3 289.2L508.3 293.2L518.3 291.2L526.4 291.2L526.9 291.2 M529.7 214.0L529.3 214.3L523.2 219.4L517.2 225.4L515.2 231.4L518.2 239.4L519.2 247.5L518.3 250.0L522.3 258.0L526.4 266.1L530.4 272.1L537.4 276.1L535.4 283.1L530.4 288.2L526.4 291.2L526.0 291.5 M526.2 290.7L526.4 291.2L529.4 298.2L533.4 306.2L536.4 311.3L536.7 311.7 M535.9 311.1L536.4 311.3L544.4 314.3L549.5 312.3L555.5 309.2L561.5 309.2L562.0 309.2 M561.3 309.7L561.5 309.2L564.5 302.2L570.5 296.2L576.6 291.2L582.6 290.2L588.6 282.1L594.6 274.1L597.1 271.7L597.4 271.3 M591.8 225.0L591.5 225.4L587.5 231.4L585.5 239.4L583.5 247.5L585.5 255.5L589.5 263.5L594.5 271.6L597.1 271.7L597.6 271.7 M625.2 234.2L625.7 234.4L631.7 237.4L639.7 241.4L647.8 245.5L655.8 248.5L663.8 251.5L667.8 253.5L668.8 257.5L663.8 263.5L657.8 267.6L654.8 273.6L654.8 279.6L654.8 280.1 M596.7 272.0L597.1 271.7L600.7 268.1L604.7 267.1L606.7 272.1L611.7 275.1L616.7 272.1L622.8 269.1L628.8 268.1L634.8 271.1L640.8 275.1L646.9 280.1L652.9 281.1L654.8 279.6L655.2 279.3 M654.6 279.2L654.8 279.6L659.9 290.2L660.9 297.2L657.9 302.2L652.9 306.2L649.9 312.3L650.9 318.3L646.9 322.3L641.8 323.3L639.8 328.3L640.8 334.4L644.9 339.4L646.9 344.4L647.0 344.9 M561.2 308.9L561.5 309.2L568.5 316.3L574.6 324.3L578.6 330.3L578.9 330.8 M646.4 344.2L646.9 344.4L654.9 347.4L662.9 352.4L669.0 358.5L673.4 361.9L673.7 362.3 M536.9 311.1L536.4 311.3L528.4 314.3L520.3 316.3L510.3 319.3L502.3 323.3L497.2 329.3L494.2 336.4L489.2 340.4L488.8 340.7 M489.7 340.3L489.2 340.4L480.2 341.4L472.1 340.4L465.1 339.4L464.6 339.3 M465.0 338.9L465.1 339.4L467.1 346.4L468.1 352.4L465.1 360.5L460.1 368.5L454.1 374.5L448.0 380.5L443.6 384.2L445.6 389.4L443.6 394.4L435.6 395.4L432.6 399.4L432.0 405.4L432.6 408.7L429.4 411.8 M489.0 339.9L489.2 340.4L493.2 348.4L497.2 356.4L502.3 365.5L507.3 374.5L510.3 380.5L517.3 386.6L518.1 387.0 M921.6 292.1L921.1 292.0L914.0 290.6L907.0 287.1L901.2 283.6L898.8 280.1L899.4 275.4L902.3 271.3L905.8 267.2L905.3 262.5L900.0 261.9L890.6 261.3L882.4 259.6L877.7 257.2L877.1 254.9L880.1 252.5L878.9 249.6L871.9 249.0L865.4 248.8L864.9 248.8 M865.7 248.4L865.4 248.8L861.9 253.1L862.5 260.1L861.3 266.0L859.6 271.9L859.0 277.7L859.0 283.6L858.4 289.4L853.1 290.0L846.7 290.6L846.1 295.3L847.8 300.0L848.4 305.8L848.5 306.3 M848.2 305.4L848.4 305.8L851.4 310.5L854.3 316.4L856.6 322.2L860.1 329.3L861.3 330.0L861.7 330.2 M788.5 332.0L788.9 331.8L795.4 329.2L803.4 327.2L811.4 326.2L819.5 324.1L825.5 322.1L829.5 316.1L835.5 312.1L841.6 310.1L848.4 305.8L848.9 305.6 M672.7 362.5L673.1 362.2L679.6 357.2L685.6 353.2L691.6 349.1L697.6 345.1L703.7 344.1L709.7 346.1L713.7 348.1L717.1 346.2L725.1 342.2L729.1 336.2L731.1 330.2L735.1 329.2L741.2 333.2L749.2 337.2L757.2 341.2L765.3 345.2L773.3 347.2L779.3 348.2L779.8 348.3 M780.8 371.2L780.3 371.3L773.3 373.3L765.3 374.4L757.2 372.3L751.2 375.4L746.2 381.4L749.2 388.4L751.2 396.4L749.2 404.5L745.2 410.5L739.1 416.5L733.1 422.6L727.1 427.6L722.1 432.6L720.1 439.6L719.9 440.1 M719.7 439.3L720.1 439.6L727.1 444.6L735.1 449.7L744.2 450.7L751.2 447.7L756.2 449.1L756.8 449.6 M720.5 439.9L720.1 439.6L713.7 435.5L705.7 428.5L697.6 421.4L690.6 419.4L685.6 420.4L685.1 420.5 M685.9 420.8L685.6 420.4L681.6 415.4L675.5 409.4L669.5 404.4L663.9 401.4L663.5 401.1 M663.6 401.7L663.9 401.4L667.5 397.3L671.5 391.3L674.5 383.3L676.5 375.3L674.5 367.2L673.1 362.2L673.0 361.7 M563.6 340.8L563.1 340.1L563.5 345.1L564.1 353.2L565.1 361.2L563.1 369.2L564.1 377.3L569.1 385.3L575.1 393.3L579.1 399.4L582.2 407.4L584.2 413.4L587.2 421.4L587.4 421.9 M586.8 421.7L587.2 421.4L591.2 418.4L597.2 415.4L603.2 411.4L604.2 404.4L608.3 399.4L615.3 395.3L622.3 393.3L627.3 389.3L631.4 385.3L637.4 384.3L645.4 385.3L651.4 387.3L656.5 392.3L660.5 398.3L663.9 401.4L664.3 401.7 M587.4 421.0L587.2 421.4L583.6 430.1L583.4 430.6 M496.8 417.2L497.2 417.1L506.3 414.1L514.3 412.1L524.4 413.1L534.4 417.1L544.4 421.1L552.5 424.1L553.5 430.1L548.5 434.1L542.4 438.2L540.4 441.2L544.4 441.2L552.5 437.2L560.5 432.1L570.5 427.1L578.6 426.1L583.6 430.1L584.0 430.4 M453.6 422.7L454.1 422.5L460.1 420.1L470.1 419.1L480.2 414.1L487.2 410.0L491.2 415.1L497.2 417.1L497.7 417.2 M445.3 417.5L445.6 417.1L449.0 412.1L452.1 417.1L454.1 422.5L454.2 423.0 M454.3 422.1L454.1 422.5L449.0 430.1L450.0 440.2L455.1 448.2L460.1 456.2L461.1 464.3L466.1 472.3L473.1 480.3L473.5 480.7 M335.6 482.2L336.1 482.1L345.2 480.0L357.2 479.0L365.3 481.0L371.3 486.1L375.3 492.1L376.3 498.1L385.3 500.1L391.4 498.1L397.4 504.1L405.4 506.2L413.5 505.1L423.5 503.1L431.5 500.1L439.6 496.1L445.6 491.1L453.6 488.1L461.7 486.1L469.7 484.1L473.1 480.3L473.5 480.0 M472.6 480.4L473.1 480.3L480.2 479.3L489.2 479.3L489.7 479.3 M488.8 479.7L489.2 479.3L496.2 473.3L501.3 469.3L506.3 473.3L514.3 475.3L520.3 473.3L526.4 469.3L529.4 472.3L526.4 477.3L524.4 482.3L530.4 486.4L536.4 491.4L544.4 492.4L552.5 490.4L560.5 486.4L568.5 482.3L576.6 479.3L584.6 477.3L594.6 477.3L595.1 477.3 M583.5 429.6L583.6 430.1L585.6 440.2L590.6 450.2L594.6 460.3L595.6 468.3L594.6 477.3L594.6 477.8 M594.3 477.0L594.6 477.3L600.7 482.3L607.7 487.4L608.1 487.7 M607.2 487.4L607.7 487.4L614.7 486.4L620.8 486.4L626.8 490.4L634.8 489.4L642.8 488.4L650.9 487.4L657.5 486.1L665.5 484.1L673.5 481.0L683.2 479.6L683.7 479.6 M469.6 530.3L469.1 530.5L462.1 534.6L454.1 540.6L446.0 546.6L435.5 556.4L433.5 562.4L434.5 570.4L433.5 578.9L433.5 579.4 M513.8 561.7L514.3 561.7L524.4 560.7L534.4 559.7L544.4 557.7L554.5 554.6L564.5 555.6L574.6 556.7L584.6 557.7L588.6 554.6L596.7 552.6L607.7 549.6L608.2 549.5 M607.6 550.1L607.7 549.6L609.7 540.6L610.7 532.6L606.7 524.5L600.7 518.5L598.7 512.5L600.7 504.4L602.7 496.4L606.7 488.4L607.7 487.4L608.1 487.0 M354.8 574.1L355.2 574.4L363.2 580.5L369.3 584.5L377.3 586.5L385.3 586.5L393.4 588.5L397.4 590.5L397.8 590.7 M396.9 590.7L397.4 590.5L403.4 587.5L409.4 584.5L414.5 579.5L419.5 578.5L423.5 581.5L429.5 579.5L433.5 578.9L434.0 578.8 M397.4 590.0L397.4 590.5L396.4 598.5L391.4 604.6L383.3 608.6L376.3 612.6L379.3 618.6L384.3 624.6L386.3 632.7L385.3 644.2L384.3 654.3L382.3 664.3L383.3 674.4L382.3 678.4L380.1 678.8L381.7 678.8 M433.3 578.4L433.5 578.9L437.6 586.5L441.6 594.5L445.6 600.5L447.6 606.6L444.6 612.6L443.6 618.6L449.6 620.6L457.6 617.6L465.7 614.6L469.7 618.6L471.7 626.7L474.7 634.7L477.7 642.7L481.7 645.2L486.8 648.6L487.2 648.9 M514.3 561.2L514.3 561.7L514.9 572.4L515.9 580.5L512.9 588.5L509.9 596.5L508.8 604.6L511.9 612.6L517.9 620.6L521.9 628.7L523.9 636.7L524.0 637.2 M524.3 636.4L523.9 636.7L517.9 642.2L511.9 647.2L509.9 651.3L509.6 651.7 M486.3 648.5L486.8 648.6L493.8 650.3L501.8 652.3L509.9 651.3L510.3 651.2 M451.1 667.4L451.6 667.3L459.6 665.3L467.7 660.3L475.7 656.3L481.7 652.3L486.8 648.6L487.2 648.4 M381.8 678.5L382.3 678.4L391.4 675.4L399.4 678.4L407.4 680.4L414.5 677.4L421.5 674.4L429.5 673.3L437.6 672.3L445.6 668.3L451.6 667.3L452.1 667.2 M451.2 667.0L451.6 667.3L460.6 673.9L461.3 679.4L453.6 681.4L446.6 680.4L445.2 688.4L443.6 694.4L439.6 699.5L435.5 703.5L439.6 706.5L443.6 710.5L446.6 716.5L448.6 720.5L448.8 721.0 M509.7 650.8L509.9 651.3L512.0 659.5L516.0 666.5L522.1 672.5L529.1 677.5L536.1 681.5L542.2 687.6L542.5 687.9 M523.4 636.6L523.9 636.7L533.1 638.4L539.1 635.4L545.2 630.3L553.2 626.3L561.2 623.3L571.3 622.3L581.3 621.3L589.4 620.3L593.4 614.3L594.4 608.2L599.4 602.2L605.4 596.2L611.4 590.2L617.5 585.1L624.5 583.7L625.0 583.6 M631.5 589.7L631.5 590.2L632.5 600.2L630.5 608.2L628.5 616.3L625.5 624.3L619.5 630.3L613.5 635.4L610.4 641.4L607.4 648.4L601.4 650.4L595.4 651.4L590.4 656.4L588.3 664.5L587.3 672.5L584.3 678.5L583.3 686.6L583.3 687.1 M713.1 518.4L713.3 518.8L717.7 527.2L725.8 528.2L733.8 530.3L739.8 530.3L742.8 525.2L749.9 523.2L757.9 520.2L765.9 518.2L774.0 517.2L782.4 517.8L782.0 518.0"/>
<path d="M654.5 280.0L654.8 279.6L657.8 275.6L663.8 279.6L671.9 283.6L677.9 284.6L683.9 279.6L688.9 273.6L687.9 265.5L684.9 257.5L685.9 249.5L687.9 239.4L691.9 231.4L698.0 225.4L705.0 219.8L710.0 217.3L714.0 211.3L715.1 210.4" stroke-width="4.0"/>
<path d="M578.1 330.2L578.6 330.3L586.6 332.3L594.6 331.3L599.7 329.3L604.7 333.3L612.7 336.4L620.8 342.4L627.8 348.4L634.8 350.4L640.8 348.4L646.9 344.4L647.3 344.1" stroke-width="2.6"/>
<path d="M579.0 330.1L578.6 330.3L568.5 336.4L558.5 344.4L548.5 354.4L538.4 363.5L528.4 373.5L520.3 382.6L514.3 392.6L508.3 402.6L502.3 412.7L498.2 417.1L498.0 416.4" stroke-width="5.0"/>
<path d="M780.0 370.9L780.3 371.3L785.3 378.4L791.4 386.4L793.8 390.4L793.2 390.0" stroke-width="3.0"/>
<path d="M361.7 408.4L362.2 408.4L371.3 407.4L379.3 404.4L385.3 401.4L391.4 395.3L399.4 393.3L405.4 395.3L411.4 401.4L417.5 405.4L421.5 403.4L425.5 407.4L431.5 413.4L437.6 417.4L445.6 417.1L446.1 417.0" stroke-width="3.6"/>
<path d="M468.7 530.2L469.1 530.5L476.2 536.6L484.2 542.6L492.2 548.6L500.3 553.6L508.3 558.7L514.3 561.7L514.8 561.9" stroke-width="3.6"/>
<path d="M607.2 549.6L607.7 549.6L613.3 550.3L617.3 556.4L620.3 562.4L622.3 570.4L624.3 578.5L624.5 583.7L624.5 584.2" stroke-width="2.8"/>
<path d="M624.1 583.4L624.5 583.7L631.5 590.2L631.9 590.5" stroke-width="5.0"/>
<path d="M712.2 530.3L711.7 530.3L705.7 529.2L699.6 528.2L693.6 530.3L687.6 534.3L683.6 540.3L681.6 548.3L679.6 556.4L675.5 561.4L669.5 562.4L663.5 562.4L655.5 564.4L647.4 566.4L641.4 570.4L636.4 576.4L633.4 582.5L631.5 590.2L631.4 590.7" stroke-width="3.0"/>
<path d="M631.2 589.8L631.5 590.2L639.6 600.2L645.6 604.2L649.6 610.3L652.6 618.3L654.6 626.3L658.6 633.3L663.7 638.4L671.7 641.4L672.2 641.6" stroke-width="3.6"/>
<path d="M682.7 479.5L683.2 479.6L689.6 481.6L695.6 485.1L699.2 489.1L696.6 496.1L693.6 502.1L695.6 507.2L701.7 511.2L707.7 515.2L713.3 518.8L713.7 519.1" stroke-width="3.0"/>
<path d="M713.3 518.3L713.3 518.8L713.7 525.2L711.7 530.3L711.5 530.7" stroke-width="3.0"/>
<path d="M685.3 420.0L685.6 420.4L689.6 427.5L693.6 433.5L694.6 439.5L693.6 447.6L691.6 455.6L687.6 461.6L683.6 467.6L681.6 473.7L683.2 479.6L683.3 480.1" stroke-width="3.0"/>
<path d="M779.0 347.9L779.3 348.2L784.3 354.3L785.3 362.3L783.3 369.3L780.3 371.3L779.9 371.6" stroke-width="3.0"/>
<path d="M789.2 331.3L788.9 331.8L784.3 339.2L780.3 345.2L779.3 348.2L779.2 348.7" stroke-width="3.0"/>
<path d="M783.2 319.7L783.3 320.1L785.3 326.2L788.9 331.8L789.2 332.2" stroke-width="2.8"/>
<path d="M711.8 529.8L711.7 530.3L710.7 538.3L708.7 546.3L709.7 554.4L712.7 562.4L713.7 570.4L714.7 578.5L716.7 585.5L720.7 590.5L725.8 594.5L728.8 597.5L729.1 597.9" stroke-width="2.4"/>
<path d="M709.8 216.9L712.0 218.3L712.0 235.4L713.0 247.5L714.0 255.5L719.1 255.5L720.1 265.5L719.1 273.6L716.0 275.6L721.1 280.6L727.1 285.6L733.1 291.7L739.1 296.0L745.2 302.1L751.2 308.1L757.2 314.1L763.2 320.1L769.3 324.1L775.3 322.1L782.9 320.1L783.7 320.1" stroke-width="2.2"/>
<path d="M489.3 478.8L489.2 479.3L487.2 486.4L490.2 494.4L489.2 500.4L480.2 502.4L475.1 506.4L471.1 512.5L477.2 518.5L472.1 524.5L469.1 530.5L468.9 531.0" stroke-width="3.0"/>
<path d="M865.2 235.5L865.4 236.1L864.8 242.6L865.4 248.8L865.5 249.3" stroke-width="3.0"/>
<path d="M799.2 223.0L799.8 223.4L802.4 229.4L803.4 239.4L802.4 249.5L803.4 259.5L801.4 271.6L797.4 283.6L791.4 293.7L788.3 296.0L786.3 302.1L791.4 308.1L792.4 313.1L788.3 317.1L783.3 320.1L782.9 320.4" stroke-width="3.2"/>
<path d="M633.3 207.6L633.7 207.3L641.7 200.9L649.8 192.2L657.4 182.8L662.8 177.2L666.4 174.4L666.8 174.1" stroke-width="4.0"/>
<path d="M633.6 206.8L633.7 207.3L634.7 215.3L631.7 223.4L627.7 229.4L625.7 234.4L625.5 234.9" stroke-width="3.4"/>
<path d="M494.2 166.6L494.1 167.1L493.1 173.2L487.1 178.2L482.1 183.2L480.1 186.2L479.8 186.6" stroke-width="3.4"/>
<path d="M359.6 151.7L359.6 152.7L356.5 161.1L355.5 167.1L358.6 173.2L362.6 178.2L365.6 182.2L368.6 185.2L372.6 186.2L368.0 189.6L370.0 195.3L372.0 204.9L372.1 205.4" stroke-width="2.8"/>
</g>
<defs><filter id="soft" x="-50%" y="-20%" width="200%" height="140%"><feGaussianBlur stdDeviation="1.6"/></filter></defs>
<path d="M590.5 167 L591.5 176 L589.5 183" fill="none" stroke="#000" stroke-opacity="0.35" stroke-width="4" filter="url(#soft)"/>
<path d="M574.5 203 Q578 200 584 203 Q590 206 592.5 203 Q594 207 590 209 Q583 208 577 210 Q573 208 574.5 203Z" fill="#fff"/>

</svg>
<ul class="legend">
<li style="top:615px"><i style="background:#66cc66;border:1px solid #4f9f4f"></i><span>Nivel 0 : ausencia de riesgo</span></li>
<li style="top:667.2px"><i style="background:#ffff00;border:1px solid #9a9a00"></i><span>Nivel 1 : bajo riesgo</span></li>
<li style="top:719.5px"><i style="background:#ff9933;border:1px solid #b87030"></i><span>Nivel 2 : riesgo medio</span></li>
<li style="top:771.8px"><i style="background:#ff0000;border:1px solid #c00000"></i><span>Nivel 3 : alto riesgo</span></li>
</ul>
</body>
</html>
